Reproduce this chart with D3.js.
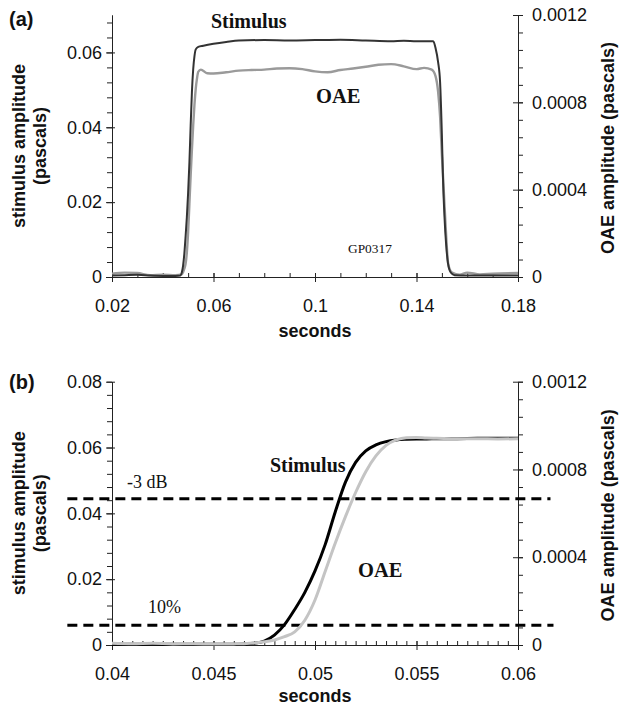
<!DOCTYPE html>
<html>
<head>
<meta charset="utf-8">
<title>Stimulus and OAE amplitude</title>
<script src="https://cdn.jsdelivr.net/npm/d3@7"></script>
<style>
  body { margin: 0; background: #fff; }
</style>
</head>
<body>
<script>
// panel (a): whole tone burst
var aTime = [0.020, 0.025, 0.030, 0.035, 0.040, 0.045, 0.047, 0.0475, 0.048, 0.0485, 0.049, 0.0495, 0.050, 0.0505, 0.051, 0.0515, 0.052, 0.0525, 0.053, 0.054,
             0.056, 0.060, 0.065, 0.070, 0.080, 0.090, 0.100, 0.110, 0.120, 0.130, 0.135, 0.140, 0.1466, 0.1475, 0.1485, 0.1493, 0.150, 0.1505, 0.151, 0.1517,
             0.1524, 0.1535, 0.155, 0.160, 0.170, 0.180];
var aStimulus = [0.0004, 0.0005, 0.0006, 0.0004, 0.0003, 0.0003, 0.0004, 0.0012, 0.0030, 0.0062, 0.0108, 0.0160, 0.0225, 0.0305, 0.0405, 0.0495, 0.0555, 0.0590, 0.0608, 0.0615,
                 0.0618, 0.0623, 0.0628, 0.0632, 0.0633, 0.0632, 0.0633, 0.0634, 0.0632, 0.0630, 0.0631, 0.0630, 0.0630, 0.0612, 0.0575, 0.0520, 0.0380, 0.0250, 0.0165, 0.0085,
                 0.0037, 0.0012, 0.0005, 0.0004, 0.0004, 0.0004];
var aOAETime = [0.020, 0.025, 0.030, 0.035, 0.040, 0.045, 0.0475, 0.048, 0.0485, 0.049, 0.0495, 0.050, 0.0505, 0.051, 0.0515, 0.052, 0.0525, 0.053, 0.0535, 0.054,
                0.055, 0.0575, 0.060, 0.065, 0.070, 0.075, 0.080, 0.085, 0.090, 0.095, 0.100, 0.105, 0.110, 0.115, 0.120, 0.125, 0.130, 0.135, 0.140, 0.143,
                0.146, 0.1475, 0.1485, 0.1493, 0.150, 0.1506, 0.1515, 0.1525, 0.154, 0.157, 0.160, 0.165, 0.170, 0.180];
var aOAE = [0.000015, 0.000020, 0.000018, 0.000008, 0.000010, 0.000008, 0.000012, 0.000022, 0.000038, 0.000060, 0.000113, 0.000205, 0.000335, 0.000465, 0.000585, 0.000695, 0.000790, 0.000862, 0.000910, 0.000940,
            0.000950, 0.000933, 0.000932, 0.000938, 0.000945, 0.000948, 0.000950, 0.000955, 0.000956, 0.000952, 0.000942, 0.000938, 0.000948, 0.000955, 0.000963, 0.000972, 0.000975, 0.000965, 0.000952, 0.000958,
            0.000950, 0.000920, 0.000850, 0.000734, 0.000560, 0.000430, 0.000230, 0.000060, 0.000020, 0.000010, 0.000020, 0.000012, 0.000015, 0.000018];

// panel (b): onset close-up
var bTime = [0.040, 0.041, 0.042, 0.043, 0.044, 0.045, 0.046, 0.0465, 0.047, 0.0475, 0.048, 0.0485, 0.049, 0.0495, 0.050, 0.0505, 0.051, 0.0515, 0.052, 0.0525,
             0.053, 0.0535, 0.054, 0.0545, 0.055, 0.0555, 0.056, 0.057, 0.058, 0.059, 0.060];
var bStimulus = [0.0002, 0.0002, 0.0003, 0.0002, 0.0002, 0.0002, 0.0002, 0.0003, 0.0005, 0.0012, 0.0030, 0.0062, 0.0108, 0.0160, 0.0225, 0.0305, 0.0405, 0.0495, 0.0555, 0.0590,
                 0.0608, 0.0618, 0.0623, 0.0625, 0.0626, 0.0626, 0.0627, 0.0627, 0.0628, 0.0628, 0.0628];
var bOAE = [0.000008, 0.000006, 0.000008, 0.000005, 0.000006, 0.000004, 0.000005, 0.000006, 0.000009, 0.000015, 0.000023, 0.000038, 0.000060, 0.000113, 0.000205, 0.000335, 0.000465, 0.000585, 0.000695, 0.000790,
            0.000862, 0.000910, 0.000935, 0.000945, 0.000946, 0.000943, 0.000942, 0.000940, 0.000940, 0.000939, 0.000940];

// reference levels in (b), in stimulus pascals, with the time span they are drawn over
var refLevels = [0.0444, 0.0060];
var refLabels = ["-3 dB", "10%"];
var refSpan = [0.0378, 0.0616];

var aXTicks = [0.02, 0.06, 0.1, 0.14, 0.18];
var bXTicks = [0.04, 0.045, 0.05, 0.055, 0.06];
var aLeftTicks = [0, 0.02, 0.04, 0.06];
var bLeftTicks = [0, 0.02, 0.04, 0.06, 0.08];
var rightTicks = [0, 0.0004, 0.0008, 0.0012];

var W = 619, H = 707;
var SANS = "Liberation Sans, Arial, sans-serif";
var SERIF = "Liberation Serif, Times New Roman, serif";
var svg = d3.select("body").append("svg").attr("width", W).attr("height", H)
  .style("font-family", SANS);

function range(a, b, step) { // tick positions only
  var out = [];
  for (var i = 0; a + i * step <= b + step * 1e-6; i++) out.push(+(a + i * step).toFixed(6));
  return out;
}

function title(g, x, y, txt) {
  g.append("text").attr("transform", "translate(" + x + "," + y + ") rotate(-90)").attr("text-anchor", "middle")
    .style("font-family", SANS).style("font-size", "18px").style("font-weight", "bold").attr("fill", "#111").text(txt);
}

function panel(p) {
  var x = d3.scaleLinear().domain(p.xDomain).range([112, 518]);
  var yL = d3.scaleLinear().domain(p.leftDomain).range([p.bottom, p.top]);
  var yR = d3.scaleLinear().domain([0, 0.0012]).range([p.bottom, p.top]);
  var g = svg.append("g");

  // x axis: minor ticks inside, major ticks crossing
  g.append("g").attr("transform", "translate(0," + p.bottom + ")")
    .call(d3.axisBottom(x).tickValues(p.xMinor).tickSize(-4).tickSizeOuter(0).tickFormat(""));
  var xa = g.append("g").attr("transform", "translate(0," + p.bottom + ")")
    .call(d3.axisBottom(x).tickValues(p.xTicks).tickSizeOuter(0).tickFormat(d3.format("")));
  xa.selectAll(".tick line").attr("y1", -4).attr("y2", 5);
  xa.selectAll(".tick text").attr("y", 35).attr("dy", 0);

  // left axis
  g.append("g").attr("transform", "translate(112,0)")
    .call(d3.axisLeft(yL).tickValues(p.leftMinor).tickSize(5).tickSizeOuter(0).tickFormat(""));
  var la = g.append("g").attr("transform", "translate(112,0)")
    .call(d3.axisLeft(yL).tickValues(p.leftTicks).tickSizeOuter(0).tickFormat(d3.format("")));
  la.selectAll(".tick line").attr("x1", 3).attr("x2", -6);
  la.selectAll(".tick text").attr("x", -10);

  // right axis
  g.append("g").attr("transform", "translate(518,0)")
    .call(d3.axisRight(yR).tickValues(range(0, 0.0012, 0.00008)).tickSize(5).tickSizeOuter(0).tickFormat(""));
  var ra = g.append("g").attr("transform", "translate(518,0)")
    .call(d3.axisRight(yR).tickValues(rightTicks).tickSizeOuter(0).tickFormat(d3.format("")));
  ra.selectAll(".tick line").attr("x1", -5).attr("x2", 5);
  ra.selectAll(".tick text").attr("x", 14);

  g.selectAll(".domain, .tick line").attr("stroke", "#222");
  g.selectAll(".tick text").attr("fill", "#111").style("font-family", SANS).style("font-size", "18px");

  // axis titles
  g.append("text").attr("x", 315).attr("y", p.bottom + p.secondsDy).attr("text-anchor", "middle")
    .style("font-size", "18px").style("font-weight", "bold").attr("fill", "#111").text("seconds");
  var mid = (p.top + p.bottom) / 2;
  title(g, 25, mid, "stimulus amplitude");
  title(g, 46, mid, "(pascals)");
  title(g, 614, mid + 2, "OAE amplitude (pascals)");
  g.append("text").attr("x", 9).attr("y", p.letterY).style("font-size", "20px")
    .style("font-weight", "bold").attr("fill", "#111").text(p.letter);

  return { g: g, x: x, yL: yL, yR: yR };
}

function drawLine(pp, xs, ys, scale, color, width) {
  var line = d3.line().x(function (d, i) { return pp.x(xs[i]); })
    .y(function (d) { return scale(d); }).curve(d3.curveMonotoneX);
  pp.g.append("path").datum(ys).attr("d", line).attr("fill", "none")
    .attr("stroke", color).attr("stroke-width", width).attr("stroke-linejoin", "round");
}

function serifLabel(g, x, y, txt, size, bold) {
  g.append("text").attr("x", x).attr("y", y).style("font-family", SERIF)
    .style("font-size", size + "px").style("font-weight", bold ? "bold" : "normal").attr("fill", "#111").text(txt);
}

// ---------- (a) ----------
var pa = panel({
  xDomain: [0.02, 0.18], leftDomain: [0, 0.07], top: 15, bottom: 277,
  xTicks: aXTicks, xMinor: range(0.02, 0.18, 0.01),
  leftTicks: aLeftTicks, leftMinor: range(0, 0.068, 0.004),
  letter: "(a)", letterY: 26, secondsDy: 60
});
drawLine(pa, aOAETime, aOAE, pa.yR, "#9a9a9a", 2.4);
drawLine(pa, aTime, aStimulus, pa.yL, "#333", 2);
serifLabel(pa.g, 211, 28, "Stimulus", 20, true);
serifLabel(pa.g, 316, 103, "OAE", 20.5, true);
serifLabel(pa.g, 348, 253, "GP0317", 13.4, false);

// ---------- (b) ----------
var pb = panel({
  xDomain: [0.04, 0.06], leftDomain: [0, 0.08], top: 381.7, bottom: 645,
  xTicks: bXTicks, xMinor: range(0.04, 0.06, 0.0005),
  leftTicks: bLeftTicks, leftMinor: range(0, 0.08, 0.004),
  letter: "(b)", letterY: 389, secondsDy: 57
});
pb.g.selectAll("line.ref").data(refLevels).enter().append("line").attr("class", "ref")
  .attr("x1", pb.x(refSpan[0])).attr("x2", function (d, i) { return pb.x(refSpan[1]) + (i ? 3 : 0); })
  .attr("y1", function (d) { return pb.yL(d); }).attr("y2", function (d) { return pb.yL(d); })
  .attr("stroke", "#000").attr("stroke-width", 3).attr("stroke-dasharray", "10,6");
serifLabel(pb.g, 127, pb.yL(refLevels[0]) - 11, refLabels[0], 18, false);
serifLabel(pb.g, 148, pb.yL(refLevels[1]) - 12, refLabels[1], 18, false);
drawLine(pb, bTime, bStimulus, pb.yL, "#000", 3);
drawLine(pb, bTime, bOAE, pb.yR, "#c4c4c4", 3);
serifLabel(pb.g, 270, 472, "Stimulus", 20, true);
serifLabel(pb.g, 358, 577, "OAE", 20.5, true);
</script>
</body>
</html>
